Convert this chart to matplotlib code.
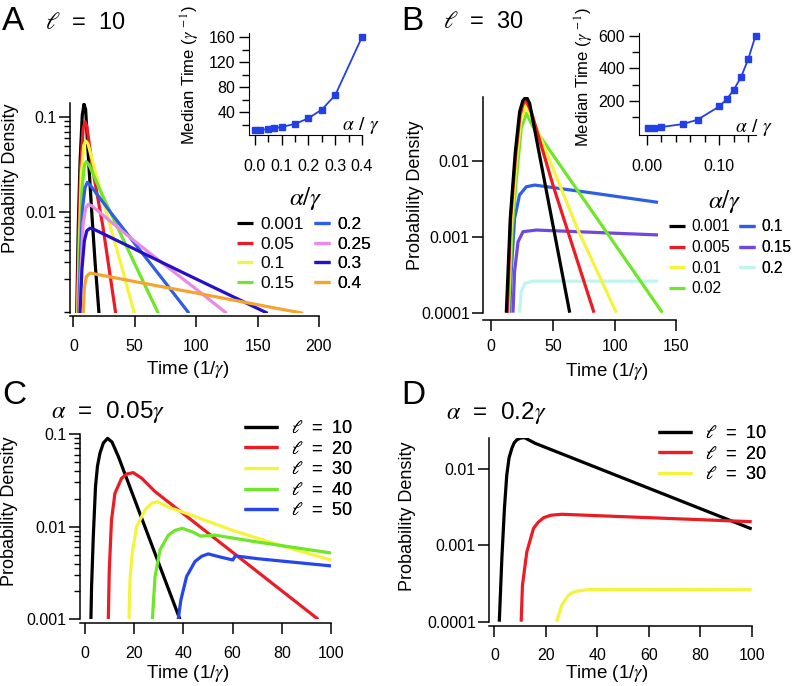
import numpy as np
import matplotlib
matplotlib.use('Agg')
import matplotlib.pyplot as plt
from matplotlib.ticker import FixedLocator, FixedFormatter, NullFormatter, LogLocator, NullLocator

plt.rcParams['font.family'] = ['Liberation Sans', 'DejaVu Sans']
plt.rcParams['mathtext.fontset'] = 'stix'

# ---------------- data ----------------
# Panel A (l = 10)
a_labels = ['0.001', '0.05', '0.1', '0.15', '0.2', '0.25', '0.3', '0.4']
a_colors = ['#000000', '#ec1c24', '#f4f43c', '#6ee62a', '#2f5ee6', '#e88ae6', '#2410c8', '#f5a431']
a_t_0001 = [2.8, 4.1, 5.5, 7.3, 8.7, 10, 11.7, 15, 17.7, 20.9]
a_p_0001 = [8.7e-4, 7.6e-3, 0.034, 0.105, 0.136, 0.12, 0.05, 0.01, 0.003, 8.7e-4]
a_t_005 = [3.2, 4.5, 6, 8, 9.6, 11, 16, 24, 34.5]
a_p_005 = [8.7e-4, 0.006, 0.03, 0.075, 0.089, 0.08, 0.027, 0.0072, 8.7e-4]
a_t_01 = [3.5, 5, 6.5, 8.5, 10.1, 12, 20, 30, 40, 49.7]
a_p_01 = [8.7e-4, 0.005, 0.025, 0.05, 0.056, 0.052, 0.021, 0.0072, 0.0025, 8.7e-4]
a_t_015 = [4, 5.5, 7, 9, 10.6, 13, 25, 40, 55, 69.2]
a_p_015 = [8.7e-4, 0.005, 0.017, 0.031, 0.034, 0.031, 0.0138, 0.0054, 0.0021, 8.7e-4]
a_t_02 = [4.5, 6, 7.5, 9.5, 11.4, 14, 30, 50, 70, 94.2]
a_p_02 = [8.7e-4, 0.004, 0.011, 0.018, 0.0206, 0.019, 0.0101, 0.0047, 0.0022, 8.7e-4]
a_t_025 = [5, 6.5, 8, 10, 12.2, 15, 40, 70, 100, 124.8]
a_p_025 = [8.7e-4, 0.003, 0.0075, 0.011, 0.0121, 0.0117, 0.0063, 0.0031, 0.00156, 8.7e-4]
a_t_03 = [5.5, 7, 9, 11, 13.6, 17, 50, 90, 130, 158.2]
a_p_03 = [8.7e-4, 0.0025, 0.005, 0.0064, 0.0068, 0.0066, 0.0041, 0.0023, 0.0013, 8.7e-4]
a_t_04 = [8, 9, 10.5, 13.6, 20, 60, 100, 150, 187.2]
a_p_04 = [8.7e-4, 0.0016, 0.0021, 0.0023, 0.00222, 0.00177, 0.00142, 0.00107, 8.7e-4]

# Inset A: median time vs alpha/gamma
ia_alpha = [0.001, 0.02, 0.05, 0.07, 0.1, 0.15, 0.2, 0.25, 0.3, 0.4]
ia_median = [11, 11, 13, 14, 16, 21, 30, 44, 67, 160]

# Panel B (l = 30)
b_labels = ['0.001', '0.005', '0.01', '0.02', '0.1', '0.15', '0.2']
b_colors = ['#000000', '#ec1c24', '#f4f43c', '#6ee62a', '#2f5ee6', '#7048e0', '#bff5ef']
b_t_0001 = [12.2, 15.4, 19.5, 23, 25.5, 28.4, 31.1, 44.6, 63.6]
b_p_0001 = [1e-4, 0.00175, 0.0133, 0.0447, 0.062, 0.0705, 0.0577, 0.0041, 1e-4]
b_t_0005 = [13, 15.7, 19.8, 23.3, 25.7, 27.9, 32.4, 50, 83.3]
b_p_0005 = [1e-4, 0.00175, 0.012, 0.0404, 0.056, 0.0638, 0.0447, 0.00482, 1e-4]
b_t_001 = [13.5, 16.2, 20.3, 23.8, 27.9, 35.2, 55.5, 70.3, 101.4]
b_p_001 = [1e-4, 0.00143, 0.0098, 0.033, 0.0537, 0.0314, 0.00482, 0.00123, 1e-4]
b_t_002 = [14, 17, 21.1, 24.3, 28.4, 33.8, 40.6, 138.7]
b_p_002 = [1e-4, 0.0013, 0.008, 0.027, 0.0426, 0.0283, 0.02, 1e-4]
b_t_01 = [14.9, 16.2, 18.9, 22.9, 28.4, 35.2, 83.9, 135.2]
b_p_01 = [1e-4, 3.5e-4, 0.00175, 0.00356, 0.00458, 0.00482, 0.00375, 0.00285]
b_t_015 = [17.6, 18.9, 21.7, 25.7, 36.5, 135.2]
b_p_015 = [1e-4, 3.5e-4, 8.6e-4, 0.00117, 0.00123, 0.00106]
b_t_02 = [23, 24.3, 27.1, 33.8, 135.2]
b_p_02 = [1e-4, 1.89e-4, 2.43e-4, 2.61e-4, 2.61e-4]

# Inset B
ib_alpha = [0.001, 0.01, 0.02, 0.05, 0.07, 0.1, 0.11, 0.12, 0.13, 0.14, 0.15]
ib_median = [36, 37, 41, 59, 86, 167, 210, 269, 347, 457, 600]

# Panel C (alpha = 0.05 gamma)
c_labels = ['10', '20', '30', '40', '50']
c_colors = ['#000000', '#ec1c24', '#f4f43c', '#6ee62a', '#2545ee']
c_t_10 = [2.44, 2.7, 3.4, 4.3, 5.1, 6.1, 7.5, 9.2, 11, 13.6, 38.6]
c_p_10 = [0.001, 0.00225, 0.0078, 0.027, 0.045, 0.062, 0.08, 0.0898, 0.082, 0.057, 0.001]
c_t_20 = [9.5, 9.9, 10.8, 12.2, 14.9, 17, 19.6, 23.1, 28.5, 94.8]
c_p_20 = [0.001, 0.0034, 0.0118, 0.0229, 0.0333, 0.037, 0.0383, 0.0333, 0.0239, 0.001]
c_t_30 = [17.9, 18.3, 19.2, 21, 24.4, 27.1, 29.5, 33.9, 40.6, 59.6, 80, 100]
c_p_30 = [0.001, 0.00266, 0.00516, 0.01, 0.0151, 0.0179, 0.0186, 0.0162, 0.0141, 0.0092, 0.0062, 0.00437]
c_t_40 = [27.4, 28.5, 30.5, 33.9, 36.5, 39.6, 44, 47, 52.8, 70.5, 100]
c_p_40 = [0.001, 0.00289, 0.0056, 0.0081, 0.0091, 0.0096, 0.0087, 0.0079, 0.0081, 0.0068, 0.0052]
c_t_50 = [37.9, 39, 41.3, 44.7, 47.5, 50.1, 55.3, 60.1, 61.1, 70.5, 100]
c_p_50 = [0.001, 0.00162, 0.00289, 0.0042, 0.0048, 0.00508, 0.00468, 0.00437, 0.00483, 0.0045, 0.00377]

# Panel D (alpha = 0.2 gamma)
d_labels = ['10', '20', '30']
d_colors = ['#000000', '#ec1c24', '#f4f43c']
d_t_10 = [1.9, 2.9, 3.9, 4.8, 5.7, 6.8, 7.7, 8.7, 10, 11.7, 15.8, 100]
d_p_10 = [1e-4, 6.8e-4, 0.00305, 0.0083, 0.014, 0.0187, 0.022, 0.024, 0.0253, 0.0257, 0.0217, 0.00164]
d_t_20 = [10.4, 10.9, 12.6, 15.2, 17, 19.1, 22, 26.2, 100]
d_p_20 = [1e-4, 3.0e-4, 8.2e-4, 0.00167, 0.002, 0.0023, 0.00248, 0.00255, 0.00204]
d_t_30 = [24.2, 26.2, 28.8, 30.5, 32.7, 37.8, 100]
d_p_30 = [1e-4, 1.65e-4, 2.23e-4, 2.42e-4, 2.54e-4, 2.65e-4, 2.62e-4]

# ---------------- figure ----------------
W, H = 793, 686
fig = plt.figure(figsize=(W / 100, H / 100), dpi=100)


def rect(x0, y0, x1, y1):
    return [x0 / W, 1 - y1 / H, (x1 - x0) / W, (y1 - y0) / H]


def ftext(x, y, s, **kw):
    fig.text(x / W, 1 - y / H, s, **kw)


LW = 2.3
TICKFS = 11.5
LABFS = 13.5


def style_axes(ax, bottom_off, xpad):
    for s in ['top', 'right']:
        ax.spines[s].set_visible(False)
    for s in ['left', 'bottom']:
        ax.spines[s].set_linewidth(1.1)
    ax.spines['bottom'].set_position(('outward', bottom_off * 0.72))
    ax.tick_params(which='major', length=8, width=1.1, labelsize=TICKFS, direction='out')
    ax.tick_params(which='minor', length=4, width=1.0, direction='out')
    ax.tick_params(axis='x', which='major', pad=xpad)
    ax.tick_params(axis='y', which='major', pad=1.5)


def log_y(ax, lo, hi, majors, labels, minor):
    ax.set_yscale('log')
    ax.set_ylim(lo, hi)
    ax.yaxis.set_major_locator(FixedLocator(majors))
    ax.yaxis.set_major_formatter(FixedFormatter(labels))
    if minor:
        ax.yaxis.set_minor_locator(LogLocator(base=10, subs=np.arange(2, 10)))
    else:
        ax.yaxis.set_minor_locator(NullLocator())
    ax.yaxis.set_minor_formatter(NullFormatter())


def col_legend(ax, handles, x, ytop, fs, hl, htp, ls):
    leg = ax.legend(handles=handles, loc='upper left', bbox_to_anchor=(x / W, 1 - ytop / H),
                    bbox_transform=fig.transFigure, frameon=False, fontsize=fs,
                    handlelength=hl, handletextpad=htp, labelspacing=ls,
                    borderpad=0, borderaxespad=0)
    ax.add_artist(leg)
    return leg


# ---- Panel A ----
axA = fig.add_axes(rect(70, 103.3, 319, 313.3))
a_ts = [a_t_0001, a_t_005, a_t_01, a_t_015, a_t_02, a_t_025, a_t_03, a_t_04]
a_ps = [a_p_0001, a_p_005, a_p_01, a_p_015, a_p_02, a_p_025, a_p_03, a_p_04]
lines_a = []
for t, p, c, lab in zip(a_ts, a_ps, a_colors, a_labels):
    ln, = axA.plot(t, p, color=c, lw=LW, label=lab, solid_capstyle='butt')
    lines_a.append(ln)
axA.set_xlim(-2.7, 200)
log_y(axA, 8.7e-4, 0.139, [0.01, 0.1], ['0.01', '0.1'], True)
axA.xaxis.set_major_locator(FixedLocator([0, 50, 100, 150, 200]))
style_axes(axA, 3, 8)
col_legend(axA, lines_a[:4], 237, 217, 12.5, 0.95, 0.4, 0.25)
col_legend(axA, lines_a[4:], 314, 217, 12.5, 0.95, 0.4, 0.25)

# ---- Inset A ----
axIA = fig.add_axes(rect(249, 33, 362, 135))
axIA.plot(ia_alpha, ia_median, color='#2340e6', lw=1.3, marker='s', ms=4.2, clip_on=False)
axIA.set_xlim(-0.0224, 0.4)
axIA.set_ylim(3.2, 166.4)
axIA.xaxis.set_major_locator(FixedLocator([0, 0.1, 0.2, 0.3, 0.4]))
axIA.xaxis.set_major_formatter(FixedFormatter(['0.0', '0.1', '0.2', '0.3', '0.4']))
axIA.xaxis.set_minor_locator(FixedLocator([0.05, 0.15, 0.25, 0.35]))
axIA.yaxis.set_major_locator(FixedLocator([40, 80, 120, 160]))
axIA.yaxis.set_minor_locator(FixedLocator([20, 60, 100, 140]))
for s in ['top', 'right']:
    axIA.spines[s].set_visible(False)
axIA.tick_params(which='major', length=7, width=1.0, labelsize=11.5, direction='out')
axIA.tick_params(which='minor', length=5, width=1.0, direction='out')
axIA.tick_params(axis='x', which='major', pad=10.5)
axIA.tick_params(axis='y', which='major', pad=3)

# ---- Panel B ----
axB = fig.add_axes(rect(483, 96.7, 676.3, 312.7))
b_ts = [b_t_0001, b_t_0005, b_t_001, b_t_002, b_t_01, b_t_015, b_t_02]
b_ps = [b_p_0001, b_p_0005, b_p_001, b_p_002, b_p_01, b_p_015, b_p_02]
lines_b = [None] * 7
for i in [6, 5, 4, 3, 2, 1, 0]:
    ln, = axB.plot(b_ts[i], b_ps[i], color=b_colors[i], lw=LW, label=b_labels[i], solid_capstyle='butt')
    lines_b[i] = ln
axB.set_xlim(-6.7, 150)
log_y(axB, 1e-4, 0.0705, [1e-4, 1e-3, 1e-2], ['0.0001', '0.001', '0.01'], False)
axB.xaxis.set_major_locator(FixedLocator([0, 50, 100, 150]))
style_axes(axB, 7, 6)
col_legend(axB, lines_b[:4], 668.5, 219.5, 11.2, 1.05, 0.45, 0.36)
col_legend(axB, lines_b[4:], 739, 219.5, 11.2, 1.05, 0.4, 0.36)

# ---- Inset B ----
axIB = fig.add_axes(rect(639, 33, 755.5, 135))
axIB.plot(ib_alpha, ib_median, color='#2340e6', lw=1.3, marker='s', ms=4.2, clip_on=False)
axIB.set_xlim(-0.011, 0.15)
axIB.set_ylim(-8, 617)
axIB.xaxis.set_major_locator(FixedLocator([0, 0.1]))
axIB.xaxis.set_major_formatter(FixedFormatter(['0.00', '0.10']))
axIB.xaxis.set_minor_locator(FixedLocator([0.02, 0.04, 0.06, 0.08, 0.12, 0.14]))
axIB.yaxis.set_major_locator(FixedLocator([200, 400, 600]))
axIB.yaxis.set_minor_locator(FixedLocator([100, 300, 500]))
for s in ['top', 'right']:
    axIB.spines[s].set_visible(False)
axIB.tick_params(which='major', length=7, width=1.0, labelsize=11.5, direction='out')
axIB.tick_params(which='minor', length=5, width=1.0, direction='out')
axIB.tick_params(axis='x', which='major', pad=10.5)
axIB.tick_params(axis='y', which='major', pad=3)

# ---- Panel C ----
axC = fig.add_axes(rect(80, 434, 331, 619.3))
c_ts = [c_t_10, c_t_20, c_t_30, c_t_40, c_t_50]
c_ps = [c_p_10, c_p_20, c_p_30, c_p_40, c_p_50]
lines_c = []
for t, p, c, lab in zip(c_ts, c_ps, c_colors, c_labels):
    ln, = axC.plot(t, p, color=c, lw=LW, label=r'$\ell$  =  ' + lab, solid_capstyle='butt')
    lines_c.append(ln)
axC.set_xlim(-2.0, 100)
log_y(axC, 0.001, 0.1, [0.001, 0.01, 0.1], ['0.001', '0.01', '0.1'], True)
axC.xaxis.set_major_locator(FixedLocator([0, 20, 40, 60, 80, 100]))
style_axes(axC, 4, 8.5)
col_legend(axC, lines_c, 244, 420, 13, 1.9, 0.7, 0.2)

# ---- Panel D ----
axD = fig.add_axes(rect(489, 438.3, 751.7, 621.7))
d_ts = [d_t_10, d_t_20, d_t_30]
d_ps = [d_p_10, d_p_20, d_p_30]
lines_d = []
for t, p, c, lab in zip(d_ts, d_ps, d_colors, d_labels):
    ln, = axD.plot(t, p, color=c, lw=LW, label=r'$\ell$  =  ' + lab, solid_capstyle='butt')
    lines_d.append(ln)
axD.set_xlim(-2.1, 100)
log_y(axD, 1e-4, 0.0252, [1e-4, 1e-3, 1e-2], ['0.0001', '0.001', '0.01'], False)
axD.xaxis.set_major_locator(FixedLocator([0, 20, 40, 60, 80, 100]))
style_axes(axD, 4, 8)
col_legend(axD, lines_d, 658, 425, 13, 1.9, 0.7, 0.2)

# ---------------- text ----------------
LET = 24
ftext(2, 21, 'A', fontsize=LET, ha='left', va='center')
ftext(45, 23, r'$\ell$  =  10', fontsize=17, ha='left', va='center')
ftext(401, 21, 'B', fontsize=LET, ha='left', va='center')
ftext(443, 22, r'$\ell$  =  30', fontsize=17, ha='left', va='center')
ftext(2, 395, 'C', fontsize=LET, ha='left', va='center')
ftext(51, 412, r'$\alpha$  =  0.05$\gamma$', fontsize=17.5, ha='left', va='center')
ftext(401, 395, 'D', fontsize=LET, ha='left', va='center')
ftext(446, 413, r'$\alpha$  =  0.2$\gamma$', fontsize=17.5, ha='left', va='center')

ftext(188, 370, r'Time (1/$\gamma$)', fontsize=LABFS, ha='center', va='center')
ftext(607, 371, r'Time (1/$\gamma$)', fontsize=LABFS, ha='center', va='center')
ftext(188, 673, r'Time (1/$\gamma$)', fontsize=LABFS, ha='center', va='center')
ftext(607, 673, r'Time (1/$\gamma$)', fontsize=LABFS, ha='center', va='center')
ftext(11, 178, 'Probability Density', fontsize=13, ha='center', va='center', rotation=90)
ftext(416, 195, 'Probability Density', fontsize=13, ha='center', va='center', rotation=90)
ftext(10, 511, 'Probability Density', fontsize=13, ha='center', va='center', rotation=90)
ftext(407, 516, 'Probability Density', fontsize=13, ha='center', va='center', rotation=90)

ftext(190, 75, r'Median Time ($\gamma^{\,-1}$)', fontsize=12, ha='center', va='center', rotation=90)
ftext(584, 77, r'Median Time ($\gamma^{\,-1}$)', fontsize=12, ha='center', va='center', rotation=90)
ftext(380, 126, r'$\alpha$ / $\gamma$', fontsize=14, ha='right', va='center')
ftext(773, 128, r'$\alpha$ / $\gamma$', fontsize=14, ha='right', va='center')
ftext(306, 199, r'$\alpha/\gamma$', fontsize=18, ha='center', va='center')
ftext(725, 202, r'$\alpha/\gamma$', fontsize=18, ha='center', va='center')

fig.savefig('out.png', dpi=100)
